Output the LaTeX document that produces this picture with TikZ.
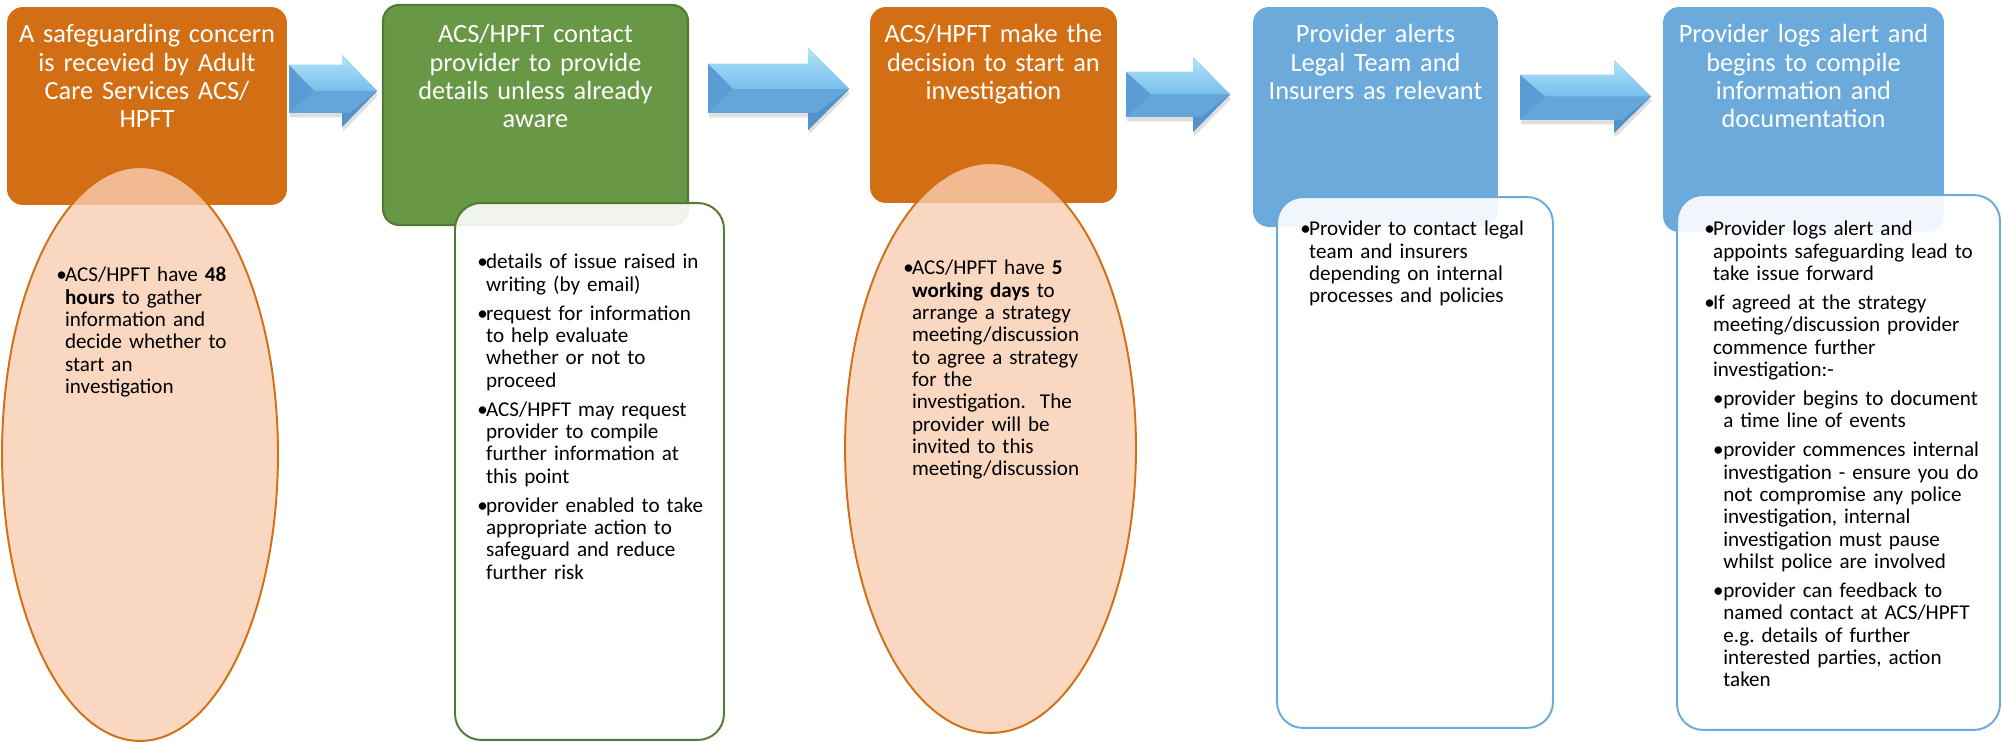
\documentclass[tikz,border=0pt]{standalone}
\usepackage{fontspec}
\setmainfont{Carlito}
\usepackage{xcolor}
\definecolor{SGOrange}{RGB}{210,111,21}
\definecolor{SGPeach}{RGB}{249,205,177}
\definecolor{SGGreen}{RGB}{104,151,69}
\definecolor{SGGreenDark}{RGB}{82,122,52}
\definecolor{SGBlue}{RGB}{107,170,219}
\definecolor{SGArrowLight}{RGB}{178,228,250}
\definecolor{SGArrowMid}{RGB}{120,190,236}
\definecolor{SGArrowDark}{RGB}{100,165,218}
\definecolor{SGArrowSide}{RGB}{92,156,212}
\definecolor{SGArrowWing}{RGB}{84,146,202}
\usetikzlibrary{positioning, shapes, arrows, shadows}

% bullet points: bullet plus a top-aligned box of hand-broken lines
\newif\iffirstpt
\newcommand{\nextpt}{\iffirstpt\global\firstptfalse\else\par\vspace{2.8pt}\fi\noindent}
\newcommand{\itm}[1]{\nextpt\makebox[5pt][l]{\textbullet}%
  \parbox[t]{5.6cm}{\strut\let\\\newline #1\strut}}
\newcommand{\subitm}[1]{\nextpt\hspace*{5pt}\makebox[5.8pt][l]{\textbullet}%
  \parbox[t]{5.4cm}{\strut\let\\\newline #1\strut}}

\begin{document}
\begin{tikzpicture}[x=0.02cm, y=-0.02cm,
  stepbox/.style={rectangle, rounded corners=0.32cm, inner sep=0pt},
  detailbox/.style={rectangle, rounded corners=0.52cm, fill=white, fill opacity=0.9, line width=1.1pt, inner sep=0pt},
  timebubble/.style={ellipse, draw=SGOrange, line width=1.1pt, fill=SGPeach, fill opacity=0.8, inner sep=0pt},
  headtext/.style={text width=5.8cm, align=center, text=white, font=\fontsize{15}{16.1}\selectfont, inner sep=0pt, anchor=base},
  bodytext/.style={text width=6cm, font=\fontsize{12}{12.7}\selectfont, inner sep=0pt, anchor=base west,
    execute at begin node=\global\firstpttrue}
]
\useasboundingbox (0,0) rectangle (2002,742);
\fill[white] (0,0) rectangle (2002,742);

% step boxes
\node[stepbox, fill=SGOrange, minimum width=5.6cm, minimum height=3.96cm] (b1) at (147,106) {};
\node[stepbox, fill=SGGreen, draw=SGGreenDark, line width=1.2pt, minimum width=6.1cm, minimum height=4.4cm] (b2) at (535.5,115) {};
\node[stepbox, fill=SGOrange, minimum width=4.94cm, minimum height=3.92cm] (b3) at (993.5,105) {};
\node[stepbox, fill=SGBlue, minimum width=4.9cm, minimum height=4.4cm] (b4) at (1375.5,117) {};
\node[stepbox, fill=SGBlue, minimum width=5.62cm, minimum height=4.5cm] (b5) at (1803.5,119.5) {};

% time limits and detail panels
\node[timebubble, minimum width=5.52cm, minimum height=11.48cm] (e1) at (140,454) {};
\node[timebubble, minimum width=5.82cm, minimum height=11.4cm] (e3) at (990.5,448) {};
\node[detailbox, draw=SGGreenDark, minimum width=5.38cm, minimum height=10.74cm] (d2) at (589.5,471.5) {};
\node[detailbox, draw=SGBlue, minimum width=5.52cm, minimum height=10.62cm] (d4) at (1415,462.5) {};
\node[detailbox, draw=SGBlue, minimum width=6.46cm, minimum height=10.7cm] (d5) at (1838.5,462.5) {};

% bevelled block arrows
\foreach \xa/\xb/\xt/\sa/\sb/\ha/\hb in {289/342/377/65/113/55/127, 708/808/849/64/113/48/130,
    1126/1193/1230/72/117/57/132, 1520/1614/1651/75/120/60/133}{
  \pgfmathsetmacro\ym{(\ha+\hb)/2}
  \pgfmathsetmacro\xr{\xa+25}
  \pgfmathsetmacro\xh{\xb+8}
  \fill[SGArrowDark, drop shadow={shadow xshift=0.6pt, shadow yshift=-2.5pt, opacity=0.25}]
    (\xa,\sa) -- (\xb,\sa) -- (\xb,\ha) -- (\xt,\ym) -- (\xb,\hb) -- (\xb,\sb) -- (\xa,\sb) -- cycle;
  \shade[top color=SGArrowLight, bottom color=SGArrowMid]
    (\xa,\sa) -- (\xb,\sa) -- (\xb,\ha) -- (\xt,\ym) -- (\xr,\ym) -- cycle;
  \fill[SGArrowSide] (\xa,\sa) -- (\xr,\ym) -- (\xa,\sb) -- cycle;
  \fill[SGArrowWing] (\xb,\sb) -- (\xh,\sb) -- (\xt,\ym) -- (\xb,\hb) -- cycle;
}

% step titles
\node[headtext] (h1) at (147,43) {A safeguarding concern\\is recevied by Adult\\Care Services ACS/\\HPFT};
\node[headtext] (h2) at (535.5,43) {ACS/HPFT contact\\provider to provide\\details unless already\\aware};
\node[headtext] (h3) at (993.5,43) {ACS/HPFT make the\\decision to start an\\investigation};
\node[headtext] (h4) at (1375.5,43) {Provider alerts\\Legal Team and\\Insurers as relevant};
\node[headtext] (h5) at (1803.5,43) {Provider logs alert and\\begins to compile\\information and\\documentation};

% bullet text
\node[bodytext] (t1) at (56,282) {\itm{ACS/HPFT have \textbf{48}\\\textbf{hours} to gather\\information and\\decide whether to\\start an\\investigation}};
\node[bodytext] (t2) at (477,269) {\itm{details of issue raised in\\writing (by email)}
  \itm{request for information\\to help evaluate\\whether or not to\\proceed}
  \itm{ACS/HPFT may request\\provider to compile\\further information at\\this point}
  \itm{provider enabled to take\\appropriate action to\\safeguard and reduce\\further risk}};
\node[bodytext] (t3) at (903,275) {\itm{ACS/HPFT have \textbf{5}\\\textbf{working days} to\\arrange a strategy\\meeting/discussion\\to agree a strategy\\for the\\investigation.\ \ The\\provider will be\\invited to this\\meeting/discussion}};
\node[bodytext] (t4) at (1300,236) {\itm{Provider to contact legal\\team and insurers\\depending on internal\\processes and policies}};
\node[bodytext] (t5) at (1704,236) {\itm{Provider logs alert and\\appoints safeguarding lead to\\take issue forward}
  \itm{If agreed at the strategy\\meeting/discussion provider\\commence further\\investigation:-}
  \subitm{provider begins to document\\a time line of events}
  \subitm{provider commences internal\\investigation - ensure you do\\not compromise any police\\investigation, internal\\investigation must pause\\whilst police are involved}
  \subitm{provider can feedback to\\named contact at ACS/HPFT\\e.g.\ details of further\\interested parties, action\\taken}};
\end{tikzpicture}
\end{document}
